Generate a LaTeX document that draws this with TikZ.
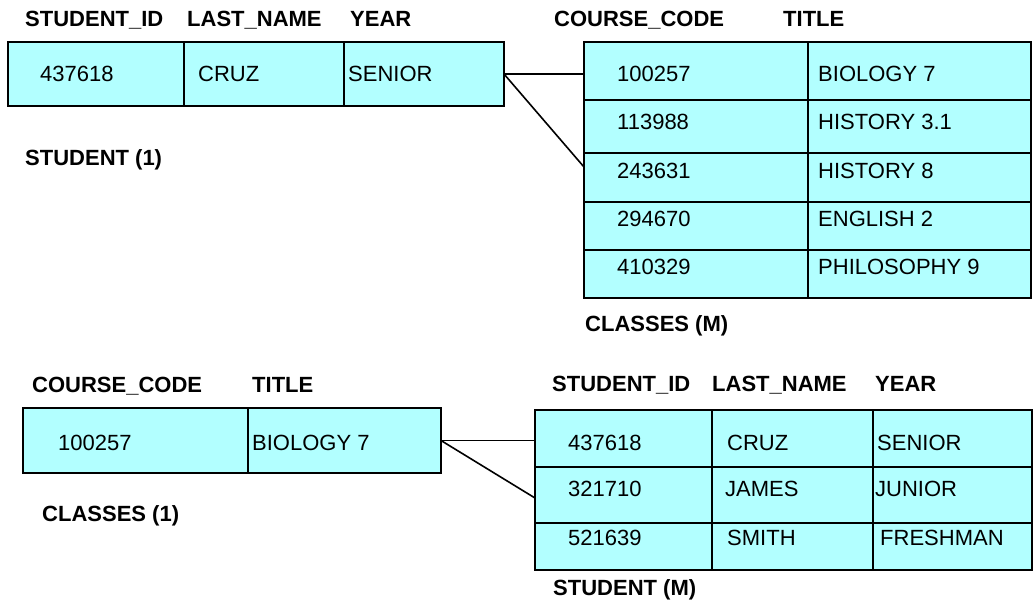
\documentclass[tikz,border=0pt]{standalone}
\usepackage{fontspec}
\setmainfont{Liberation Sans}
\usepackage{tikz}
\usetikzlibrary{positioning}
\definecolor{rowcyan}{RGB}{178,255,255}

\begin{document}
\begin{tikzpicture}[x=1pt,y=-1pt,
  tbl/.style={draw,fill=rowcyan,line width=1.5pt,inner sep=0pt,outer sep=0pt,anchor=north west},
  rule/.style={line width=1.6pt},
  txt/.style={anchor=base west,inner sep=0pt,font=\fontsize{22}{26}\selectfont},
  hdr/.style={anchor=base west,inner sep=0pt,font=\fontsize{22}{26}\selectfont\bfseries}]
\useasboundingbox (0,0) rectangle (1033,600);

% column heads, top
\node[hdr] (Hsid) at (25,26) {STUDENT\_ID};
\node[hdr] (Hlast) at (187,26) {LAST\_NAME};
\node[hdr] (Hyear) at (350,26) {YEAR};
\node[hdr] (Hcode) at (554,26) {COURSE\_CODE};
\node[hdr] (Htitle) at (783,26) {TITLE};

% student (1)
\node[tbl,minimum width=496pt,minimum height=64pt] (S) at (8,42) {};
\draw[rule] (184,42) -- (184,106) (344,42) -- (344,106);
\node[txt] (s1) at (40,81) {437618};
\node[txt] (s2) at (198,81) {CRUZ};
\node[txt] (s3) at (348,81) {SENIOR};
\node[hdr] (Sname) at (25,165) {STUDENT (1)};

% classes (M)
\node[tbl,minimum width=447pt,minimum height=58pt] (C1) at (584,42) {};
\node[tbl,minimum width=447pt,minimum height=53pt] (C2) at (584,100) {};
\node[tbl,minimum width=447pt,minimum height=49pt] (C3) at (584,153) {};
\node[tbl,minimum width=447pt,minimum height=48pt] (C4) at (584,202) {};
\node[tbl,minimum width=447pt,minimum height=48pt] (C5) at (584,250) {};
\draw[rule] (808,42) -- (808,298);
\node[txt] (c1) at (617,81) {100257};
\node[txt] (c2) at (617,129) {113988};
\node[txt] (c3) at (617,178) {243631};
\node[txt] (c4) at (617,226) {294670};
\node[txt] (c5) at (617,274) {410329};
\node[txt] (t1) at (818,81) {BIOLOGY 7};
\node[txt] (t2) at (818,129) {HISTORY 3.1};
\node[txt] (t3) at (818,178) {HISTORY 8};
\node[txt] (t4) at (818,226) {ENGLISH 2};
\node[txt] (t5) at (818,274) {PHILOSOPHY 9};
\node[hdr] (Cname) at (585,331) {CLASSES (M)};

\coordinate (Cin) at (584,167);
\path[rule]
(S.east) edge (S.east -| C1.west)
(S.east) edge (Cin);

% column heads, bottom
\node[hdr] (Hcode2) at (32,392) {COURSE\_CODE};
\node[hdr] (Htitle2) at (252,392) {TITLE};
\node[hdr] (Hsid2) at (552,391) {STUDENT\_ID};
\node[hdr] (Hlast2) at (712,391) {LAST\_NAME};
\node[hdr] (Hyear2) at (875,391) {YEAR};

% classes (1)
\node[tbl,minimum width=418pt,minimum height=65pt] (K) at (23,408) {};
\draw[rule] (248,408) -- (248,473);
\node[txt] (k1) at (58,450) {100257};
\node[txt] (k2) at (252,450) {BIOLOGY 7};
\node[hdr] (Kname) at (42,521) {CLASSES (1)};

% student (M)
\node[tbl,minimum width=497pt,minimum height=57pt] (T1) at (535,410) {};
\node[tbl,minimum width=497pt,minimum height=56pt] (T2) at (535,467) {};
\node[tbl,minimum width=497pt,minimum height=47pt] (T3) at (535,523) {};
\draw[rule] (712,410) -- (712,570) (873,410) -- (873,570);
\node[txt] (u1) at (568,450) {437618};
\node[txt] (u2) at (568,496) {321710};
\node[txt] (u3) at (568,545) {521639};
\node[txt] (n1) at (727,450) {CRUZ};
\node[txt] (n2) at (725,496) {JAMES};
\node[txt] (n3) at (727,545) {SMITH};
\node[txt] (y1) at (877,450) {SENIOR};
\node[txt] (y2) at (875,496) {JUNIOR};
\node[txt] (y3) at (880,545) {FRESHMAN};
\node[hdr] (Tname) at (553,595) {STUDENT (M)};

\coordinate (Tin) at (535,498);
\path[rule]
(K.east) edge (K.east -| T1.west)
(K.east) edge (Tin);
\end{tikzpicture}
\end{document}
